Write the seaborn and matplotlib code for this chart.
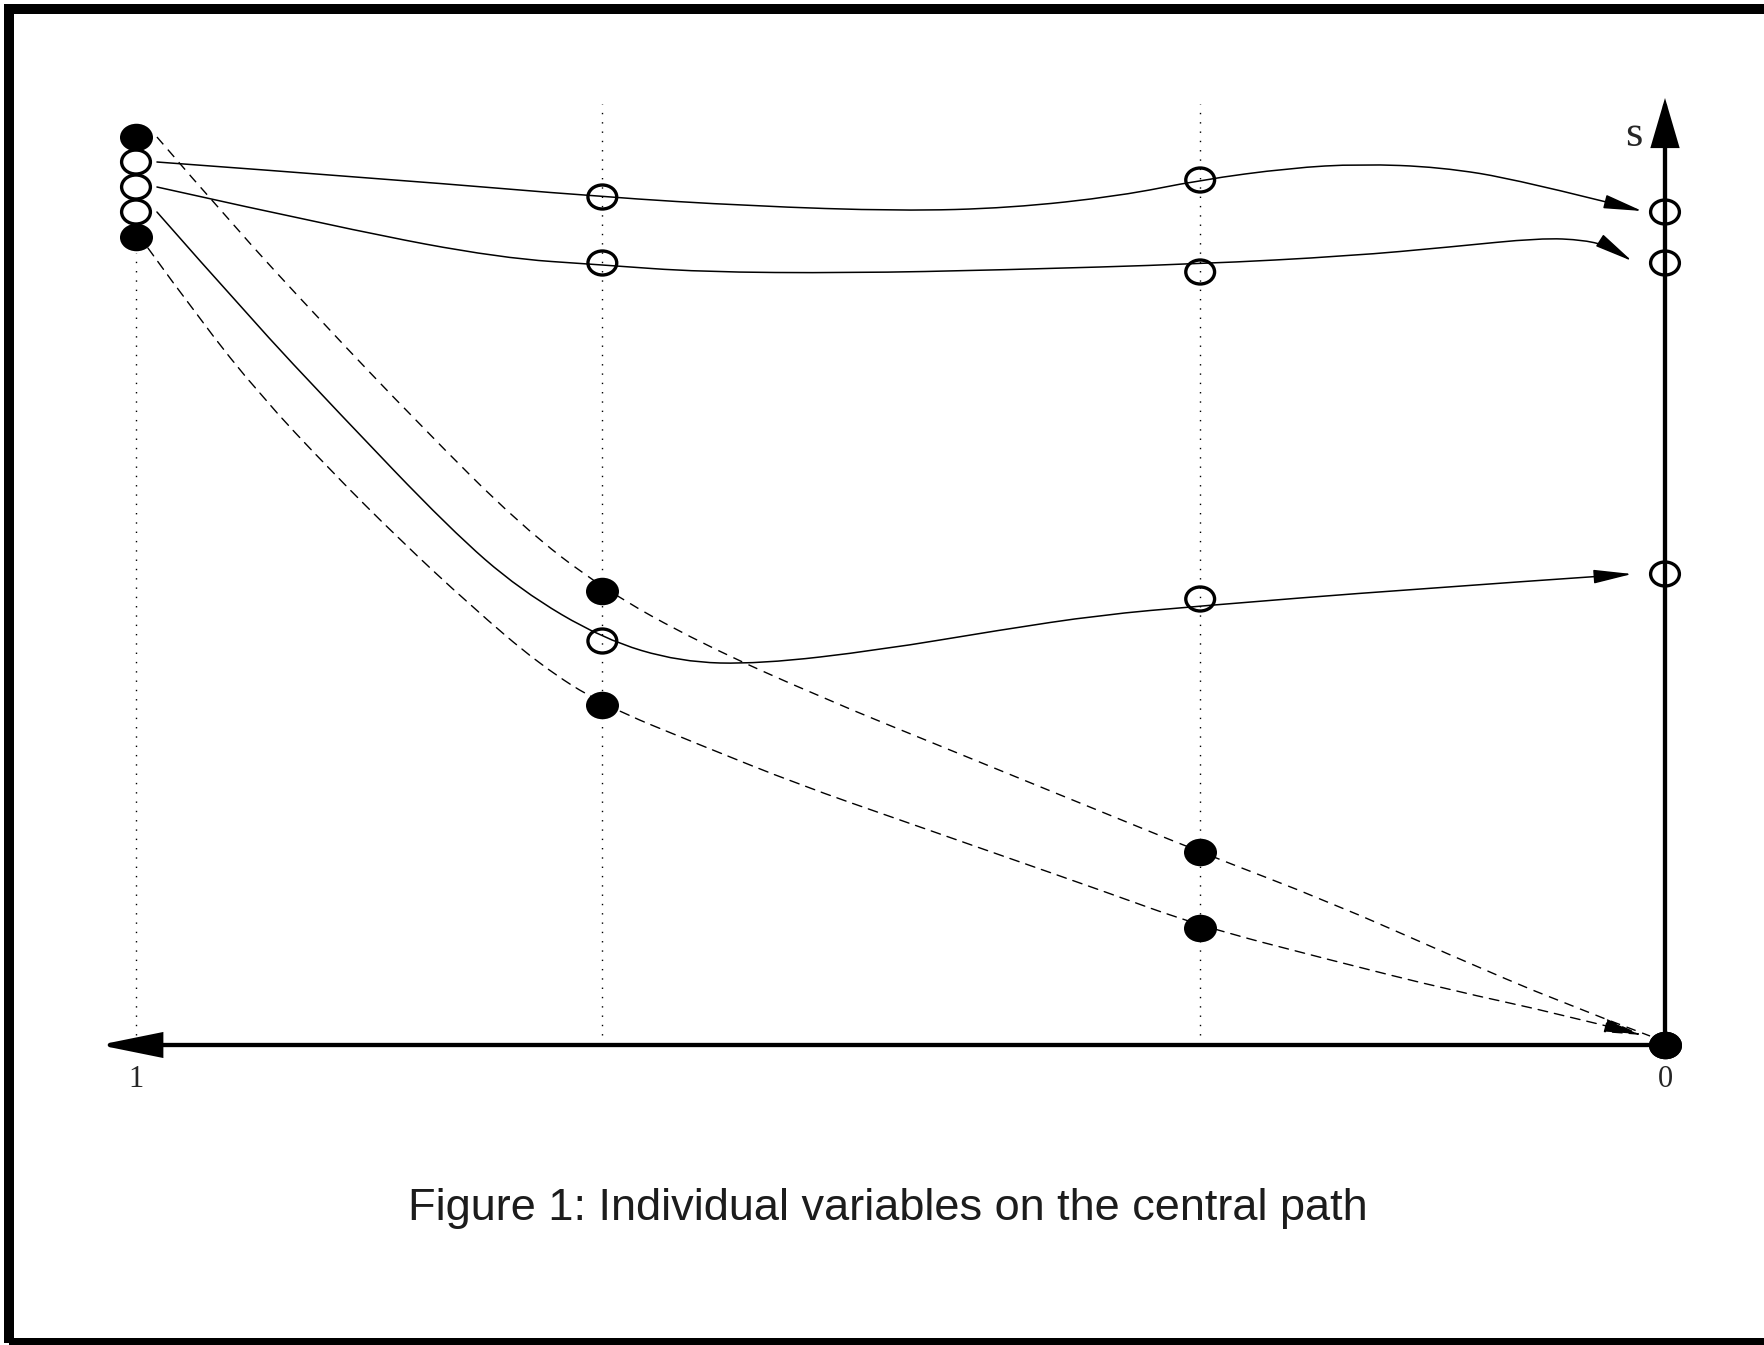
import matplotlib
matplotlib.use("Agg")
import matplotlib.pyplot as plt
import numpy as np
import seaborn as sns
from matplotlib.path import Path
from matplotlib.patches import FancyArrowPatch, PathPatch, Rectangle
from matplotlib.transforms import Affine2D

# ---- data ----
# columns of the figure along the mu axis (1 on the left, 0 on the right)
mu_cols = [1.0, 0.695, 0.304, 0.0]

# open circles (s variables) and filled circles (x variables) at each column
s_top = [8.83, 8.48, 8.65, 8.33]
s_mid = [8.58, 7.82, 7.73, 7.82]
s_low = [8.33, 4.04, 4.46, 4.71]
x_top = [9.08, 4.54, 1.93, 0.0]
x_low = [8.08, 3.40, 1.17, 0.0]

# trajectory waypoints (mu, value)
curve_a_mu = [0.9863, 0.8273, 0.6946, 0.5984, 0.5003, 0.4284, 0.3564, 0.3041,
              0.2453, 0.1995, 0.1472, 0.0948, 0.0150]
curve_a_val = [8.83, 8.65, 8.48, 8.39, 8.34, 8.37, 8.49, 8.65,
               8.77, 8.81, 8.78, 8.65, 8.34]

curve_b_mu = [0.9863, 0.8600, 0.7619, 0.6946, 0.6311, 0.5330, 0.4349, 0.3041,
              0.2060, 0.1406, 0.0818, 0.0523, 0.0360, 0.0216]
curve_b_val = [8.58, 8.15, 7.87, 7.80, 7.73, 7.72, 7.75, 7.81,
               7.89, 7.98, 8.07, 8.05, 7.98, 7.84]

curve_c_mu = [0.9863, 0.9254, 0.8685, 0.7946, 0.7488, 0.6946, 0.6442, 0.5919,
              0.5134, 0.4349, 0.3695, 0.3041, 0.1733, 0.0216]
curve_c_val = [8.33, 7.27, 6.34, 5.16, 4.55, 4.06, 3.83, 3.81,
               3.95, 4.15, 4.30, 4.39, 4.55, 4.71]

curve_d1_mu = [0.9863, 0.9385, 0.8797, 0.8143, 0.7488, 0.6946, 0.6311, 0.5526,
               0.4676, 0.3826, 0.3041, 0.2191, 0.1406, 0.0687, 0.0098]
curve_d1_val = [9.08, 8.23, 7.25, 6.20, 5.20, 4.56, 4.02, 3.48,
                2.95, 2.42, 1.93, 1.43, 0.90, 0.43, 0.09]

curve_d2_mu = [0.9922, 0.9581, 0.9189, 0.8731, 0.8273, 0.7816, 0.7358, 0.6946,
               0.6311, 0.5657, 0.5003, 0.4349, 0.3695, 0.3041, 0.2191, 0.1406,
               0.0687, 0.0150]
curve_d2_val = [7.97, 7.25, 6.50, 5.75, 5.05, 4.40, 3.80, 3.40,
                3.00, 2.60, 2.25, 1.90, 1.55, 1.19, 0.85, 0.55,
                0.31, 0.10]

caption = "Figure 1: Individual variables on the central path"


def spline_path(mu, val):
    """Quadratic B-spline through the waypoints (like an xfig spline)."""
    pts = np.column_stack([mu, val])
    verts = [pts[0]]
    codes = [Path.MOVETO]
    for i in range(1, len(pts) - 1):
        end = pts[i + 1] if i == len(pts) - 2 else (pts[i] + pts[i + 1]) / 2
        verts += [pts[i], end]
        codes += [Path.CURVE3, Path.CURVE3]
    return Path(verts, codes)


sns.set_style("white")
fig = plt.figure(figsize=(17.64, 13.45), dpi=100)
ax = fig.add_axes([0, 0, 1, 1])
ax.set_xlim(1 + 136 / 1529, -99 / 1529)
ax.set_ylim(-3.0, 10.45)
ax.axis("off")

# dotted guides at the intermediate columns
ax.vlines(mu_cols[:3], [0.1, 0.1, 0.1], [7.92, 9.41, 9.41], colors="k",
          linewidth=1.0, linestyles=[(0, (1, 5.7))])

# axes with arrows
ax.add_patch(FancyArrowPatch((mu_cols[3], 0), (1.0242, 0),
                             arrowstyle="-|>,head_length=37,head_width=7.5",
                             mutation_scale=1, lw=3.1, color="k",
                             shrinkA=0, shrinkB=0, joinstyle="miter"))
ax.add_patch(FancyArrowPatch((mu_cols[3], 0), (mu_cols[3], 9.47),
                             arrowstyle="-|>,head_length=29,head_width=8.5",
                             mutation_scale=1, lw=3.1, color="k",
                             shrinkA=0, shrinkB=0, joinstyle="miter"))

# solid trajectories of the open variables
for cm, cv in [(curve_a_mu, curve_a_val), (curve_b_mu, curve_b_val),
               (curve_c_mu, curve_c_val)]:
    ax.add_patch(FancyArrowPatch(path=spline_path(cm, cv),
                                 arrowstyle="-|>,head_length=24,head_width=4.3",
                                 mutation_scale=1, lw=1.1, color="k"))

# dashed trajectories of the filled variables
ax.add_patch(PathPatch(spline_path(curve_d1_mu, curve_d1_val), fill=False,
                       lw=1.0, ls=(0, (7, 5)), ec="k"))
ax.add_patch(FancyArrowPatch(path=spline_path(curve_d2_mu, curve_d2_val),
                             arrowstyle="-|>,head_length=24,head_width=4.3",
                             mutation_scale=1, lw=1.0, ls=(0, (7, 5)),
                             color="k"))

# markers (slightly wide ellipses)
ellipse = Path.unit_circle().transformed(Affine2D().scale(1.2, 1.0))
open_mu = mu_cols * 3
open_val = s_top + s_mid + s_low
fill_mu = mu_cols * 2
fill_val = x_top + x_low
sns.scatterplot(x=open_mu, y=open_val, marker=ellipse, s=430,
                facecolors="none", edgecolor="k", linewidth=2.4,
                ax=ax, zorder=5)
sns.scatterplot(x=fill_mu, y=fill_val, marker=ellipse, s=565,
                color="k", edgecolor="k", linewidth=0, ax=ax, zorder=5)

# labels
serif = ["Liberation Serif", "DejaVu Serif"]
ax.text(mu_cols[0], -0.42, "1", ha="center", va="baseline", fontsize=22,
        family=serif)
ax.text(mu_cols[3], -0.42, "0", ha="center", va="baseline", fontsize=22,
        family=serif)
ax.text(0.0203, 8.99, "s", ha="center", va="baseline", fontsize=32,
        family=serif)

fig.text(888 / 1764, 1 - 1220 / 1345, caption, ha="center", va="baseline",
         fontsize=32.5, color="#1c1c1c", family=["Liberation Sans", "DejaVu Sans"])

# page frame
fig.add_artist(Rectangle((9 / 1764, 2 / 1345), 1758 / 1764, 1334.5 / 1345,
                         transform=fig.transFigure, fill=False, lw=7.2,
                         ec="k"))

fig.savefig("out.png", dpi=100)
